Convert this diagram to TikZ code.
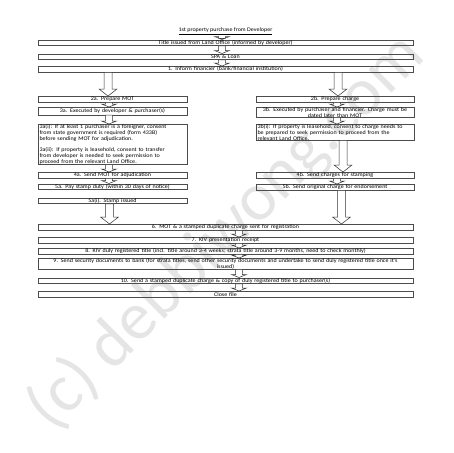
\documentclass[tikz,border=0pt]{standalone}
\usepackage{fontspec}
\setmainfont{Carlito}[FakeStretch=1.1]
\newfontfamily\markfont{Carlito}
\usetikzlibrary{calc}

% hollow block arrow: x taken from the target, y from source to target
\newcommand\blockarrow[5]{%
  \draw[arrowline] let \p1=(#1), \p2=(#2) in
    (\x2-#3,\y1) -- (\x2-#3,\y2+#5) -- (\x2-#4,\y2+#5) -- (\x2,\y2)
    -- (\x2+#4,\y2+#5) -- (\x2+#3,\y2+#5) -- (\x2+#3,\y1) -- cycle;}
\newcommand\smallarrow[2]{\blockarrow{#1}{#2}{3.3pt}{7.5pt}{3pt}}
\newcommand\bigarrow[2]{\blockarrow{#1}{#2}{4pt}{9pt}{7pt}}

\begin{document}
\begin{tikzpicture}[x=1pt,y=-1pt,
    font=\fontsize{5.5}{5.8}\selectfont]
  % Styles
  \tikzset{
    box/.style={draw=black!70, line width=0.6pt, anchor=north,
      inner xsep=1.5pt, inner ysep=0.1pt, minimum height=5.8pt, align=center},
    wide/.style={box, text width=372pt},
    leftbox/.style={box, text width=146pt},
    rightbox/.style={box, text width=155pt},
    arrowline/.style={draw=black!80, line width=0.5pt, fill=white},
    watermark/.style={text=gray!20, rotate=45,
      font=\markfont\fontsize{68}{68}\selectfont}
  }

  \useasboundingbox (0,0) rectangle (453,453);

  \node[watermark] (wm) at (226,232) {(c) debbiwong.com};

  % The chart
  \node (start) at (225.5,31.5) {\underline{1st property purchase from Developer}};
  \node[wide] (title) at (225.5,39.5) {Title issued from Land Office (informed by developer)};
  \node[wide] (spa) at (225.5,53.5) {SPA \& Loan};
  \node[wide] (inform) at (225.5,66) {1. Inform financier (bank/financial institution)};

  \node[leftbox] (prepmot) at (112.5,96) {2a. Prepare MOT};
  \node[rightbox] (prepcharge) at (335,96) {2b. Prepare charge};
  \node[leftbox, minimum height=7.5pt] (execmot) at (112.5,107) {3a. Executed by developer \& purchaser(s)};
  \node[rightbox] (execcharge) at (335,107)
    {3b. Executed by purchaser and financier. Charge must be\\ dated later than MOT};
  \node[leftbox, align=left] (consentmot) at (112.5,124)
    {3a(i): If at least 1 purchaser is a foreigner, consent\\
     from state government is required (form 433B)\\
     before sending MOT for adjudication.\\[5.8pt]
     3a(ii): If property is leasehold, consent to transfer\\
     from developer is needed to seek permission to\\
     proceed from the relevant Land Office.};
  \node[rightbox, align=left] (consentcharge) at (335,124)
    {3b(i): If property is leasehold, consent to charge needs to\\
     be prepared to seek permission to proceed from the\\
     relevant Land Office.};
  \node[leftbox] (adjud) at (112.5,172) {4a. Send MOT for adjudication};
  \node[rightbox] (stamping) at (335,172) {4b. Send charges for stamping};
  \node[leftbox] (duty) at (112.5,183.5) {5a. Pay stamp duty (within 30 days of notice)};
  \node[rightbox] (endorse) at (335,184) {5b. Send original charge for endorsement};
  \node[leftbox] (stamped) at (112.5,197.5) {5a(i). Stamp issued};

  \node[wide] (register) at (225.5,224) {6. MOT \& a stamped duplicate charge sent for registration};
  \node[wide] (receipt) at (225.5,237) {7. KIV presentation receipt};
  \node[wide] (kivtitle) at (225.5,248)
    {8. KIV duly registered title (incl. title around 3-4 weeks; strata title around 3-9 months, need to check monthly)};
  \node[wide] (security) at (225.5,258)
    {9. Send security documents to bank (for strata titles, send other security documents and undertake to send duly registered title once it's\\ issued)};
  \node[wide] (copies) at (225.5,277.5)
    {10. Send a stamped duplicate charge \& copy of duly registered title to purchaser(s)};
  \node[wide] (close) at (225.5,291) {Close file};

  % Arrows
  \smallarrow{start.south}{[xshift=-3.5pt]title.north}
  \smallarrow{title.south}{[xshift=-3.5pt]spa.north}
  \smallarrow{spa.south}{[xshift=-3.5pt]inform.north}
  \bigarrow{inform.south}{[xshift=-4.5pt]prepmot.north}
  \bigarrow{inform.south}{[xshift=3pt]prepcharge.north}
  \smallarrow{prepmot.south}{[xshift=-3.5pt]execmot.north}
  \smallarrow{execmot.south}{[xshift=-3.5pt]consentmot.north}
  \smallarrow{consentmot.south}{[xshift=-3.5pt]adjud.north}
  \smallarrow{adjud.south}{[xshift=-3.5pt]duty.north}
  \smallarrow{prepcharge.south}{[xshift=2pt]execcharge.north}
  \smallarrow{execcharge.south}{[xshift=2pt]consentcharge.north}
  \bigarrow{consentcharge.south}{[xshift=8pt]stamping.north}
  \smallarrow{stamping.south}{[xshift=2pt]endorse.north}
  \bigarrow{stamped.south}{[xshift=-116pt]register.north}
  \bigarrow{endorse.south}{[xshift=116pt]register.north}
  \smallarrow{register.south}{[xshift=13.5pt]receipt.north}
  \smallarrow{receipt.south}{[xshift=13.5pt]kivtitle.north}
  \smallarrow{kivtitle.south}{[xshift=13.5pt]security.north}
  \smallarrow{security.south}{[xshift=13.5pt]copies.north}
  \smallarrow{copies.south}{[xshift=13.5pt]close.north}
\end{tikzpicture}
\end{document}
